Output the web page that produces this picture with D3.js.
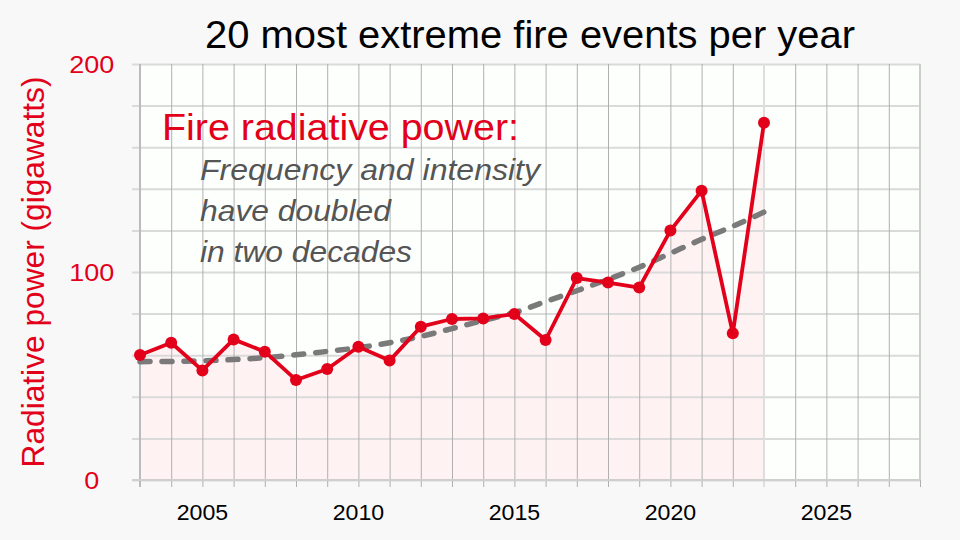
<!DOCTYPE html>
<html>
<head>
<meta charset="utf-8">
<script src="https://cdn.jsdelivr.net/npm/d3@7"></script>
<style>
  body { margin: 0; background: #f8f8f8; }
  svg { display: block; font-family: "Liberation Sans", Arial, sans-serif; }
</style>
</head>
<body>
<div id="chart"></div>
<script>
// yearly values
var years = [2003, 2004, 2005, 2006, 2007, 2008, 2009, 2010, 2011, 2012, 2013,
             2014, 2015, 2016, 2017, 2018, 2019, 2020, 2021, 2022, 2023];
var power = [60.1, 66.0, 52.7, 67.6, 61.7, 48.1, 53.4, 64.1, 57.4, 73.7, 77.4,
             77.7, 79.8, 67.3, 97.1, 94.9, 92.5, 119.9, 139.1, 70.5, 171.8];
var trend = [56.9, 57.0, 57.3, 57.9, 58.8, 60.2, 61.8, 63.6, 66.0, 69.0, 72.8,
             76.7, 80.5, 85.8, 91.0, 96.5, 102.3, 109.0, 115.7, 122.0, 128.8];
var xTicks = [2005, 2010, 2015, 2020, 2025];
var yTicks = [0, 100, 200];
var noteLines = ["Frequency and intensity", "have doubled", "in two decades"];
var noteWidths = [340, 191, 212];

var width = 960, height = 540;
var margin = {top: 64, right: 40, bottom: 60, left: 140};
var red = "#e2001a";

var svg = d3.select("#chart").append("svg")
  .attr("width", width)
  .attr("height", height);

var x = d3.scaleLinear().domain([2003, 2028]).range([margin.left, width - margin.right]);
var y = d3.scaleLinear().domain([0, 200]).range([height - margin.bottom, margin.top]);

// plot background
svg.append("rect")
  .attr("x", x(2003)).attr("y", y(200))
  .attr("width", x(2028) - x(2003)).attr("height", y(0) - y(200))
  .attr("fill", "#fdfffd");

// shaded area under the data
var area = d3.area()
  .x(function(d, i) { return x(years[i]); })
  .y0(y(0))
  .y1(function(d) { return y(d); });

svg.append("path")
  .datum(power)
  .attr("d", area)
  .attr("fill", "#fff2f3");

// horizontal grid every 20
svg.append("g")
  .attr("transform", "translate(" + x(2003) + ",0)")
  .call(d3.axisLeft(y).tickValues(d3.range(0, 201, 20)).tickSizeOuter(0).tickFormat(""))
  .call(function(g) {
    g.select(".domain").remove();
    g.selectAll("line").attr("stroke", "#dadada").attr("stroke-width", 2).attr("x2", x(2028) - x(2003)).attr("x1", -8);
  });

// vertical grid every year
svg.append("g")
  .attr("transform", "translate(0," + y(0) + ")")
  .call(d3.axisBottom(x).tickValues(d3.range(2003, 2029)).tickSizeOuter(0).tickFormat(""))
  .call(function(g) {
    g.select(".domain").remove();
    g.selectAll("line")
      .attr("stroke", "#b0b0b0").attr("stroke-width", 1)
      .attr("y1", -(y(0) - y(200))).attr("y2", 7);
  });

// frame lines
svg.append("line").attr("x1", x(2003)).attr("x2", x(2003)).attr("y1", y(200)).attr("y2", y(0) + 7)
  .attr("stroke", "#bbb").attr("stroke-width", 2);
svg.append("line").attr("x1", x(2028)).attr("x2", x(2028)).attr("y1", y(200)).attr("y2", y(0))
  .attr("stroke", "#ccc").attr("stroke-width", 2);
svg.append("line").attr("x1", x(2023)).attr("x2", x(2023)).attr("y1", y(200)).attr("y2", y(0) + 7)
  .attr("stroke", "#dedede").attr("stroke-width", 2);
svg.append("line").attr("x1", x(2003) - 8).attr("x2", x(2028)).attr("y1", y(0)).attr("y2", y(0))
  .attr("stroke", "#cfcfcf").attr("stroke-width", 2);

// tick labels
svg.append("g").selectAll("text")
  .data(xTicks)
  .enter()
  .append("text")
  .attr("x", function(d) { return x(d); })
  .attr("y", 520)
  .attr("text-anchor", "middle")
  .attr("font-size", 22.5)
  .attr("textLength", 51.5)
  .attr("lengthAdjust", "spacingAndGlyphs")
  .attr("fill", "#000")
  .text(function(d) { return d; });

svg.append("g").selectAll("text")
  .data(yTicks)
  .enter()
  .append("text")
  .attr("x", 91.8)
  .attr("y", function(d) { return y(d) + 9.3; })
  .attr("text-anchor", "middle")
  .attr("font-size", 24)
  .attr("textLength", function(d) { return String(d).length * 15; })
  .attr("lengthAdjust", "spacingAndGlyphs")
  .attr("fill", red)
  .text(function(d) { return d; });

// trend line
var line = d3.line()
  .x(function(d, i) { return x(years[i]); })
  .y(function(d) { return y(d); })
  .curve(d3.curveMonotoneX);

svg.append("path")
  .datum(trend)
  .attr("d", line)
  .attr("fill", "none")
  .attr("stroke", "#7a7a7a")
  .attr("stroke-width", 5.5)
  .attr("stroke-linecap", "round")
  .attr("stroke-dasharray", "10,12");

// data line and points
svg.append("path")
  .datum(power)
  .attr("d", d3.line().x(function(d, i) { return x(years[i]); }).y(function(d) { return y(d); }))
  .attr("fill", "none")
  .attr("stroke", red)
  .attr("stroke-width", 3.8)
  .attr("stroke-linejoin", "round");

svg.append("g").selectAll("circle")
  .data(power)
  .enter()
  .append("circle")
  .attr("cx", function(d, i) { return x(years[i]); })
  .attr("cy", function(d) { return y(d); })
  .attr("r", 6)
  .attr("fill", red);

// titles
svg.append("text")
  .attr("x", 205)
  .attr("y", 48)
  .attr("font-size", 39)
  .attr("textLength", 650)
  .attr("lengthAdjust", "spacingAndGlyphs")
  .attr("fill", "#000")
  .text("20 most extreme fire events per year");

svg.append("text")
  .attr("transform", "translate(44,272) rotate(-90)")
  .attr("text-anchor", "middle")
  .attr("font-size", 31)
  .attr("textLength", 391)
  .attr("lengthAdjust", "spacingAndGlyphs")
  .attr("fill", red)
  .text("Radiative power (gigawatts)");

// annotation
svg.append("text")
  .attr("x", 162)
  .attr("y", 139.5)
  .attr("font-size", 36)
  .attr("textLength", 357)
  .attr("lengthAdjust", "spacingAndGlyphs")
  .attr("fill", red)
  .text("Fire radiative power:");

svg.append("g").selectAll("text")
  .data(noteLines)
  .enter()
  .append("text")
  .attr("x", 200)
  .attr("y", function(d, i) { return 180 + i * 41; })
  .attr("font-size", 29)
  .attr("font-style", "italic")
  .attr("textLength", function(d, i) { return noteWidths[i]; })
  .attr("lengthAdjust", "spacingAndGlyphs")
  .attr("fill", "#555")
  .text(function(d) { return d; });
</script>
</body>
</html>
